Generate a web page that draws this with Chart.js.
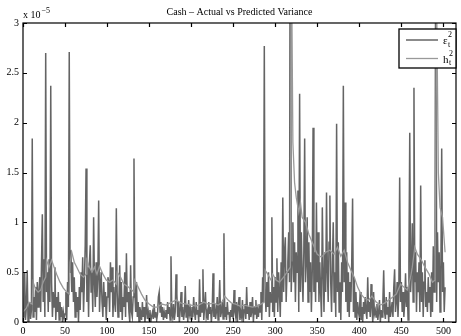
<!DOCTYPE html>
<html>
<head>
<meta charset="utf-8">
<title>Cash – Actual vs Predicted Variance</title>
<script src="https://cdn.jsdelivr.net/npm/chart.js@4.4.1/dist/chart.umd.min.js"></script>
<style>
  html, body { margin: 0; padding: 0; background: #fff; }
  #wrap { width: 461px; height: 336px; position: relative; }
</style>
</head>
<body>
<div id="wrap"><canvas id="varChart"></canvas></div>
<script>

// squared residuals, one value per day (0..502), in units of 1e-5
var epsSq = [
  0.05, 0.10, 0.50, 0.02, 0.15, 0.52, 0.00, 0.08, 0.20, 0.03,
  0.12, 1.84, 0.05, 0.25, 0.10, 0.35, 0.02, 0.40, 0.15, 0.30,
  0.45, 0.10, 0.60, 1.08, 0.20, 0.63, 0.05, 2.70, 0.30, 0.50,
  0.10, 0.63, 0.20, 2.37, 0.40, 0.05, 0.30, 0.15, 0.55, 0.02,
  0.25, 0.10, 0.30, 0.02, 0.20, 0.05, 0.15, 0.00, 0.10, 0.04,
  0.08, 0.30, 0.02, 0.40, 0.15, 2.71, 0.50, 0.72, 0.30, 0.60,
  0.20, 0.45, 0.05, 0.30, 0.10, 0.25, 0.00, 0.35, 0.12, 0.50,
  0.30, 0.65, 0.10, 0.40, 0.77, 1.54, 0.20, 0.55, 0.05, 0.60,
  0.77, 0.30, 0.50, 0.10, 1.05, 0.40, 0.15, 0.60, 0.25, 0.45,
  1.22, 0.10, 0.35, 0.50, 0.20, 0.05, 0.40, 0.15, 0.30, 0.02,
  0.25, 0.45, 0.40, 0.10, 0.60, 0.30, 0.55, 0.05, 0.35, 0.20,
  0.10, 1.14, 0.30, 0.05, 0.20, 0.57, 0.10, 0.40, 0.02, 0.25,
  0.15, 0.50, 0.05, 0.69, 0.20, 0.30, 0.10, 0.00, 0.57, 0.10,
  0.05, 0.25, 1.64, 0.30, 0.10, 0.40, 0.05, 0.20, 0.00, 0.15,
  0.10, 0.02, 0.20, 0.05, 0.15, 0.00, 0.08, 0.27, 0.03, 0.10,
  0.02, 0.12, 0.00, 0.06, 0.10, 0.03, 0.18, 0.05, 0.10, 0.02,
  0.08, 0.25, 0.30, 0.10, 0.20, 0.05, 0.15, 0.02, 0.10, 0.05,
  0.12, 0.03, 0.20, 0.08, 0.15, 0.02, 0.66, 0.10, 0.05, 0.18,
  0.02, 0.10, 0.48, 0.28, 0.05, 0.20, 0.00, 0.12, 0.30, 0.05,
  0.15, 0.02, 0.10, 0.36, 0.05, 0.18, 0.00, 0.22, 0.08, 0.13,
  0.03, 0.15, 0.05, 0.25, 0.10, 0.02, 0.20, 0.08, 0.12, 0.00,
  0.43, 0.05, 0.20, 0.10, 0.53, 0.02, 0.15, 0.30, 0.05, 0.10,
  0.02, 0.20, 0.08, 0.15, 0.00, 0.10, 0.49, 0.05, 0.18, 0.03,
  0.10, 0.25, 0.02, 0.15, 0.42, 0.05, 0.10, 0.20, 0.03, 0.89,
  0.05, 0.15, 0.02, 0.20, 0.08, 0.10, 0.00, 0.12, 0.05, 0.18,
  0.03, 0.32, 0.10, 0.05, 0.20, 0.00, 0.15, 0.25, 0.02, 0.10,
  0.05, 0.22, 0.00, 0.12, 0.18, 0.03, 0.35, 0.08, 0.15, 0.02,
  0.20, 0.05, 0.10, 0.25, 0.00, 0.15, 0.08, 0.22, 0.03, 0.12,
  0.05, 0.18, 0.10, 0.30, 0.02, 0.45, 0.20, 2.77, 0.30, 0.10,
  0.40, 0.15, 0.50, 0.05, 0.30, 0.20, 1.05, 0.10, 0.35, 0.05,
  0.45, 0.20, 0.64, 0.10, 0.50, 0.30, 0.05, 0.60, 0.20, 1.25,
  0.30, 0.70, 0.85, 0.20, 0.50, 0.60, 0.90, 0.40, 5.50, 0.30,
  0.60, 1.00, 0.40, 0.80, 0.20, 0.70, 0.50, 1.32, 0.10, 2.29,
  0.30, 0.90, 0.50, 0.20, 0.70, 1.84, 0.40, 0.60, 1.05, 0.20,
  0.80, 0.30, 0.60, 0.10, 0.50, 1.95, 0.30, 0.70, 0.20, 1.20,
  0.40, 0.90, 0.20, 0.60, 0.30, 0.05, 1.15, 0.50, 0.10, 0.70,
  0.30, 1.30, 0.50, 0.20, 0.80, 1.27, 0.40, 0.10, 0.60, 1.00,
  0.20, 0.50, 0.05, 1.99, 0.30, 0.80, 0.10, 0.40, 0.02, 0.60,
  0.30, 2.37, 0.40, 1.20, 0.20, 0.70, 0.10, 0.50, 0.05, 0.40,
  0.20, 0.60, 1.24, 0.10, 0.45, 0.05, 0.30, 0.02, 0.20, 0.10,
  0.05, 0.30, 0.02, 0.15, 0.00, 0.20, 0.08, 0.25, 0.10, 0.03,
  0.45, 0.10, 0.20, 0.05, 0.38, 0.15, 0.00, 0.30, 0.08, 0.12,
  0.05, 0.18, 0.02, 0.10, 0.22, 0.00, 0.12, 0.05, 0.20, 0.52,
  0.10, 0.03, 0.25, 0.08, 0.15, 0.00, 0.30, 0.05, 0.12, 0.20,
  0.05, 0.35, 0.53, 0.10, 0.20, 0.40, 0.05, 0.30, 1.45, 0.20,
  0.40, 0.10, 0.30, 0.05, 0.20, 0.49, 0.15, 0.35, 0.02, 0.60,
  1.90, 0.30, 0.50, 0.99, 0.20, 2.35, 0.40, 0.70, 0.10, 0.50,
  0.30, 0.60, 0.10, 1.37, 0.20, 0.50, 0.05, 0.40, 0.62, 0.15,
  0.30, 0.10, 0.45, 0.20, 0.35, 0.05, 0.50, 0.10, 0.76, 0.30,
  0.60, 4.50, 0.20, 0.90, 0.40, 0.70, 0.10, 0.50, 1.74, 0.30,
  0.60, 0.10, 0.35
];

var hDays = [
  0, 4, 7, 11, 12, 15, 18, 21, 24, 27, 28, 31, 34, 37, 40, 44, 48, 52, 55, 56,
  58, 61, 64, 68, 72, 75, 76, 79, 82, 85, 88, 91, 95, 99, 103, 107, 111, 112, 116, 120,
  124, 128, 132, 133, 137, 141, 145, 150, 155, 160, 165, 170, 177, 182, 188, 194, 200, 206, 211, 215,
  220, 227, 232, 236, 240, 244, 248, 253, 258, 263, 268, 273, 278, 283, 287, 288, 291, 295, 297, 301,
  305, 310, 314, 318, 319, 321, 323, 325, 328, 330, 332, 336, 340, 345, 350, 355, 360, 365, 370, 374,
  378, 382, 386, 390, 394, 398, 402, 406, 411, 415, 420, 425, 430, 435, 440, 444, 449, 453, 457, 461,
  463, 466, 469, 474, 478, 483, 487, 490, 492, 494, 496, 499, 502
];
var hVals = [
  0.10, 0.14, 0.20, 0.18, 0.40, 0.33, 0.30, 0.32, 0.40, 0.45, 0.62, 0.55, 0.62, 0.55, 0.48, 0.40, 0.34, 0.30, 0.28, 0.60,
  0.70, 0.60, 0.55, 0.48, 0.45, 0.48, 0.62, 0.55, 0.50, 0.55, 0.48, 0.56, 0.48, 0.42, 0.40, 0.42, 0.38, 0.50, 0.45, 0.38,
  0.36, 0.33, 0.30, 0.42, 0.35, 0.28, 0.22, 0.18, 0.15, 0.15, 0.18, 0.17, 0.20, 0.22, 0.19, 0.18, 0.17, 0.16, 0.18, 0.20,
  0.18, 0.19, 0.17, 0.19, 0.26, 0.22, 0.19, 0.18, 0.16, 0.17, 0.16, 0.15, 0.16, 0.18, 0.20, 0.52, 0.48, 0.42, 0.48, 0.42,
  0.40, 0.45, 0.50, 0.55, 4.00, 1.80, 1.40, 1.25, 1.10, 1.20, 1.05, 1.00, 0.88, 0.78, 0.68, 0.65, 0.70, 0.72, 0.68, 0.75,
  0.66, 0.72, 0.60, 0.52, 0.45, 0.35, 0.28, 0.24, 0.22, 0.26, 0.20, 0.17, 0.19, 0.22, 0.25, 0.28, 0.38, 0.35, 0.32, 0.45,
  0.55, 0.75, 0.68, 0.62, 0.55, 0.48, 0.40, 0.42, 3.20, 1.50, 1.15, 1.05, 0.70
];

var xTicks = [0, 50, 100, 150, 200, 250, 300, 350, 400, 450, 500];
var yTicks = [0, 0.5, 1, 1.5, 2, 2.5, 3];

var serif = '"Liberation Serif", "Times New Roman", serif';

// MATLAB style box, inward ticks, exponent and legend
var matlabBox = {
  id: 'matlabBox',
  afterDatasetsDraw: function(chart) {
    var ctx = chart.ctx;
    var a = chart.chartArea;
    var xs = chart.scales.x;
    var ys = chart.scales.y;
    var tl = 4;

    ctx.save();
    ctx.strokeStyle = '#000';
    ctx.lineWidth = 1.2;
    ctx.strokeRect(a.left, a.top, a.right - a.left, a.bottom - a.top);

    ctx.beginPath();
    for (var i = 0; i < xTicks.length; i++) {
      var px = Math.round(xs.getPixelForValue(xTicks[i])) + 0.5;
      ctx.moveTo(px, a.bottom);
      ctx.lineTo(px, a.bottom - tl);
      ctx.moveTo(px, a.top);
      ctx.lineTo(px, a.top + tl);
    }
    for (var j = 0; j < yTicks.length; j++) {
      var py = Math.round(ys.getPixelForValue(yTicks[j])) + 0.5;
      ctx.moveTo(a.left, py);
      ctx.lineTo(a.left + tl, py);
      ctx.moveTo(a.right, py);
      ctx.lineTo(a.right - tl, py);
    }
    ctx.stroke();

    // exponent "x 10^-5"
    ctx.fillStyle = '#000';
    ctx.textBaseline = 'alphabetic';
    ctx.textAlign = 'left';
    ctx.font = '10px ' + serif;
    ctx.fillText('x 10', a.left, a.top - 5);
    var w = ctx.measureText('x 10').width;
    ctx.font = '8px ' + serif;
    ctx.fillText('\u22125', a.left + w + 1, a.top - 10);

    // legend
    var bw = 57, bh = 39;
    var bx = a.right - bw;
    var by = a.top + 6;
    ctx.fillStyle = '#fff';
    ctx.fillRect(bx, by, bw, bh);
    ctx.lineWidth = 1.3;
    ctx.strokeStyle = '#000';
    ctx.strokeRect(bx, by, bw, bh);

    var sets = chart.data.datasets;
    for (var k = 0; k < sets.length; k++) {
      var ly = by + 11 + k * 18.5;
      ctx.beginPath();
      ctx.strokeStyle = sets[k].borderColor;
      ctx.lineWidth = sets[k].borderWidth;
      ctx.moveTo(bx + 7, ly);
      ctx.lineTo(bx + 39, ly);
      ctx.stroke();

      // label like "ε_t^2"
      var base = sets[k].label.split('_')[0];
      var rest = sets[k].label.split('_')[1].split('^');
      ctx.fillStyle = '#000';
      ctx.font = '11px ' + serif;
      ctx.fillText(base, bx + 44, ly + 4);
      var bwid = ctx.measureText(base).width;
      ctx.font = '8px ' + serif;
      ctx.fillText(rest[0], bx + 44 + bwid + 0.5, ly + 6.5);
      ctx.fillText(rest[1], bx + 44 + bwid + 0.5, ly - 3);
    }
    ctx.restore();
  }
};

function init() {
  var epsPoints = [];
  for (var i = 0; i < epsSq.length; i++) {
    epsPoints.push({ x: i, y: epsSq[i] });
  }
  var hPoints = [];
  for (var j = 0; j < hDays.length; j++) {
    hPoints.push({ x: hDays[j], y: hVals[j] });
  }

  var ctx = document.getElementById('varChart').getContext('2d');
  var chart = new Chart(ctx, {
    type: 'scatter',
    data: {
      datasets: [{
        label: '\u03b5_t^2',
        data: epsPoints,
        showLine: true,
        borderColor: '#646464',
        borderWidth: 1.5,
        pointRadius: 0,
        order: 1
      }, {
        label: 'h_t^2',
        data: hPoints,
        showLine: true,
        borderColor: '#999999',
        borderWidth: 1.3,
        pointRadius: 0,
        order: 0
      }]
    },
    options: {
      responsive: true,
      maintainAspectRatio: false,
      animation: false,
      devicePixelRatio: 1,
      layout: { padding: { left: 0, right: 5, top: 0, bottom: 0 } },
      plugins: {
        legend: { display: false },
        tooltip: { enabled: false },
        title: {
          display: true,
          fullSize: false,
          text: 'Cash \u2013 Actual vs Predicted Variance',
          color: '#000',
          font: { family: serif, size: 10, weight: 'normal' },
          padding: { top: 6, bottom: 5 }
        }
      },
      scales: {
        x: {
          type: 'linear',
          min: 0,
          max: 515,
          grid: { display: false, drawTicks: false },
          border: { display: false },
          ticks: {
            color: '#000',
            font: { family: serif, size: 10 },
            padding: 3,
            maxRotation: 0,
            callback: function(v) { return String(v); }
          },
          afterBuildTicks: function(scale) {
            scale.ticks = xTicks.map(function(v) { return { value: v }; });
          },
          afterFit: function(scale) { scale.height = 14; }
        },
        y: {
          min: 0,
          max: 3,
          grid: { display: false, drawTicks: false },
          border: { display: false },
          ticks: {
            color: '#000',
            font: { family: serif, size: 10 },
            padding: 4,
            callback: function(v) { return String(v); }
          },
          afterBuildTicks: function(scale) {
            scale.ticks = yTicks.map(function(v) { return { value: v }; });
          },
          afterFit: function(scale) { scale.width = 23; }
        }
      }
    },
    plugins: [matlabBox]
  });
}

init();
</script>
</body>
</html>
